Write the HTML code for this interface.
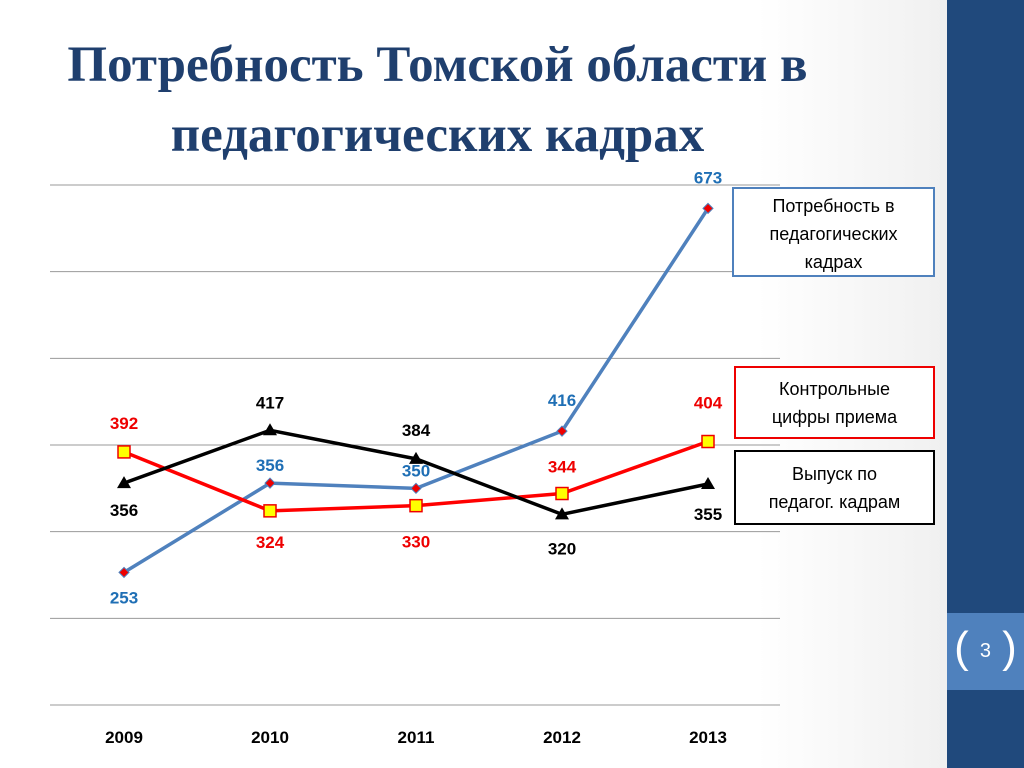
<!DOCTYPE html>
<html><head><meta charset="utf-8"><style>
body{margin:0;width:1024px;height:768px;overflow:hidden;background:#fff;font-family:"Liberation Sans",sans-serif;position:relative}
#bg{position:absolute;left:0;top:0;width:947px;height:768px;background:linear-gradient(90deg,#fff 0%,#fff 80%,#f0f0f0 100%)}
#side{position:absolute;left:947px;top:0;width:77px;height:768px;background:#20497c}
#num{position:absolute;left:947px;top:613px;width:77px;height:77px;background:#4f81bd;color:#fff;font-size:20px;text-align:center;line-height:77px}
#num span{font-size:44px;font-weight:100;vertical-align:middle;line-height:77px;position:relative;top:-4px}
h1{position:absolute;left:0;top:30px;width:875px;margin:0;text-align:center;font-family:"Liberation Serif",serif;font-weight:bold;font-size:51px;line-height:70px;color:#1f3f6e}
.box{position:absolute;background:#fff;font-size:18px;text-align:center;line-height:28px;box-sizing:border-box}
</style></head><body>
<div id="bg"></div>
<div id="side"></div>
<div id="num"><span>(</span>&nbsp;&nbsp;3&nbsp;&nbsp;<span>)</span></div>
<h1>Потребность Томской области в<br>педагогических кадрах</h1>
<svg id="chart" width="947" height="768" style="position:absolute;left:0;top:0"></svg>
<div class="box" style="left:732px;top:187px;width:203px;height:90px;border:2px solid #4f81bd;padding-top:3px">Потребность в<br>педагогических<br>кадрах</div>
<div class="box" style="left:734px;top:366px;width:201px;height:73px;border:2px solid #e00;padding-top:7px">Контрольные<br>цифры приема</div>
<div class="box" style="left:734px;top:450px;width:201px;height:75px;border:2px solid #000;padding-top:8px">Выпуск по<br>педагог. кадрам</div>
<script>
const years=["2009","2010","2011","2012","2013"];
const need=[253,356,350,416,673];
const quota=[392,324,330,344,404];
const grads=[356,417,384,320,355];
const yTicks=[100,200,300,400,500,600,700];
const svg=document.getElementById('chart');
const NS='http://www.w3.org/2000/svg';
function x(i){return 124+i*146;}
function y(v){return 705-(v-100)*0.8667;}
function mk(t,a,p){const e=document.createElementNS(NS,t);for(const k in a)e.setAttribute(k,a[k]);(p||svg).appendChild(e);return e;}
yTicks.forEach(v=>{const l=mk('line',{x1:50,x2:780,y1:y(v),y2:y(v),stroke:'#999','stroke-width':1});

});
years.forEach((yr,i)=>{const t=mk('text',{x:x(i),y:743,'text-anchor':'middle','font-size':17,'font-weight':'bold','font-family':'Liberation Sans'});t.textContent=yr;

});
function series(data,color,name,marker,lblOff){
 const pl=mk('polyline',{points:data.map((v,i)=>x(i)+','+y(v)).join(' '),fill:'none',stroke:color,'stroke-width':3.5});
 
 
 data.forEach((v,i)=>{let m;const cx=x(i),cy=y(v);
  if(marker==='sq')m=mk('rect',{x:cx-6,y:cy-6,width:12,height:12,fill:'#ff0',stroke:'#e00','stroke-width':1.5});
  else if(marker==='tri')m=mk('polygon',{points:`${cx},${cy-7} ${cx-7},${cy+5} ${cx+7},${cy+5}`,fill:'#000'});
  else m=mk('polygon',{points:`${cx},${cy-5} ${cx+5},${cy} ${cx},${cy+5} ${cx-5},${cy}`,fill:'#e00',stroke:'#4f81bd'});
  
  
  const t=mk('text',{x:cx,y:cy+lblOff[i],'text-anchor':'middle','font-size':17,'font-weight':'bold',fill:marker==='dia'?'#1f6fb5':(marker==='sq'?'#e00':'#000')});
  t.textContent=v;
  
  });
}
series(need,'#4f81bd','need','dia',[31,-12,-12,-25,-25]);
series(quota,'#ff0000','quota','sq',[-23,37,42,-21,-33]);
series(grads,'#000','graduates','tri',[33,-22,-23,40,36]);
</script>
</body></html>
